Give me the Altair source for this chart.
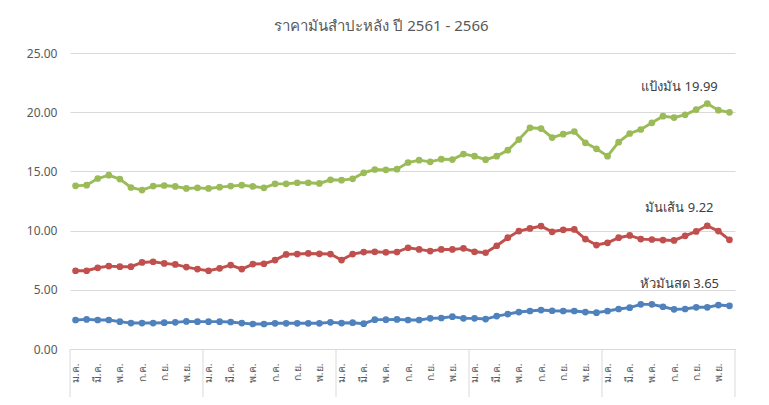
import json
import altair as alt
import pandas as pd

months = ["ม.ค.", "ก.พ.", "มี.ค.", "เม.ย.", "พ.ค.", "มิ.ย.",
          "ก.ค.", "ส.ค.", "ก.ย.", "ต.ค.", "พ.ย.", "ธ.ค."]
years = ["2561", "2562", "2563", "2564", "2565"]

series_names = ["หัวมันสด", "มันเส้น", "แป้งมัน"]
series_colors = ["#4F81BD", "#C0504D", "#9BBB59"]

fresh_root = [2.45, 2.50, 2.45, 2.45, 2.31, 2.19, 2.19, 2.19, 2.22, 2.25, 2.33, 2.31,
              2.31, 2.31, 2.28, 2.19, 2.11, 2.11, 2.17, 2.17, 2.17, 2.17, 2.17, 2.25,
              2.19, 2.22, 2.14, 2.48, 2.48, 2.50, 2.45, 2.45, 2.59, 2.62, 2.73, 2.59,
              2.59, 2.53, 2.78, 2.95, 3.12, 3.21, 3.29, 3.23, 3.21, 3.21, 3.12, 3.07,
              3.21, 3.38, 3.49, 3.77, 3.77, 3.57, 3.35, 3.38, 3.52, 3.52, 3.71, 3.65]

chips = [6.61, 6.61, 6.86, 7.00, 6.95, 6.95, 7.31, 7.37, 7.23, 7.14, 6.92, 6.75,
         6.61, 6.81, 7.09, 6.75, 7.17, 7.20, 7.51, 7.99, 8.02, 8.07, 8.04, 8.02,
         7.51, 8.02, 8.19, 8.21, 8.16, 8.19, 8.55, 8.41, 8.27, 8.41, 8.41, 8.50,
         8.21, 8.13, 8.72, 9.40, 9.96, 10.18, 10.38, 9.90, 10.07, 10.10, 9.28, 8.78,
         8.97, 9.40, 9.59, 9.28, 9.25, 9.20, 9.17, 9.56, 9.93, 10.41, 9.96, 9.22]

starch = [13.78, 13.84, 14.40, 14.68, 14.35, 13.64, 13.42, 13.76, 13.81, 13.73, 13.56, 13.61,
          13.56, 13.67, 13.76, 13.84, 13.73, 13.61, 13.95, 13.95, 14.04, 14.04, 13.98, 14.29,
          14.26, 14.37, 14.88, 15.16, 15.13, 15.19, 15.75, 15.95, 15.81, 16.03, 16.00, 16.46,
          16.29, 15.99, 16.29, 16.79, 17.69, 18.68, 18.62, 17.86, 18.14, 18.37, 17.41, 16.91,
          16.29, 17.47, 18.20, 18.54, 19.10, 19.66, 19.55, 19.78, 20.22, 20.73, 20.17, 19.99]

values_by_series = [fresh_root, chips, starch]
n = len(starch)

rows = []
for name, vals in zip(series_names, values_by_series):
    for i, v in enumerate(vals):
        rows.append({"i": i, "v": v, "s": name, "m": months[i % 12], "y": years[i // 12]})
df = pd.DataFrame(rows)

W, H = 665, 296
FONT = "Noto Sans"
month_js = json.dumps(months, ensure_ascii=False)

x_scale = alt.Scale(domain=[-0.5, n - 0.5], nice=False, zero=False)
y_scale = alt.Scale(domain=[0, 25], nice=False)
color_scale = alt.Scale(domain=series_names, range=series_colors)

x_axis = alt.Axis(values=list(range(0, n, 2)), labelExpr=f"{month_js}[datum.value % 12]",
                  labelAngle=-90, labelOverlap=False, grid=False, ticks=False,
                  domainColor="#d9d9d9", domainWidth=1, labelPadding=14,
                  labelFontSize=10.5, labelColor="#595959", labelFont=FONT, title=None)
y_axis = alt.Axis(values=[0, 5, 10, 15, 20, 25], format=".2f", grid=True,
                  gridColor="#d9d9d9", gridWidth=1, domain=False, ticks=False,
                  labelPadding=13, labelFontSize=12, labelColor="#595959",
                  labelFont=FONT, title=None)

lines = alt.Chart(df).mark_line(
    strokeWidth=2.9,
    point=alt.OverlayMarkDef(size=45, filled=True, opacity=1),
).encode(
    x=alt.X("i:Q", scale=x_scale, axis=x_axis),
    y=alt.Y("v:Q", scale=y_scale, axis=y_axis),
    color=alt.Color("s:N", scale=color_scale, legend=None),
    detail="s:N",
)

# year separators on the category axis
sep_df = pd.DataFrame({"i": [k * 12 - 0.5 for k in range(len(years) + 1)]})
seps = alt.Chart(sep_df).mark_rule(color="#d9d9d9", strokeWidth=1).encode(
    x=alt.X("i:Q", scale=x_scale, axis=x_axis),
    y=alt.value(H),
    y2=alt.value(H + 60),
)

# end labels
last_df = pd.DataFrame({
    "s": series_names,
    "i": [n - 1] * 3,
    "v": [vals[-1] for vals in values_by_series],
})
last_df["label"] = last_df["s"] + " " + last_df["v"].map(lambda v: f"{v:.2f}")

label_dy = {"แป้งมัน": -25, "มันเส้น": -32, "หัวมันสด": -22}
texts = []
for name in series_names:
    texts.append(
        alt.Chart(last_df[last_df["s"] == name]).mark_text(
            align="center", baseline="middle", dx=-50, dy=label_dy[name],
            fontSize=13, color="#404040", font=FONT,
        ).encode(
            x=alt.X("i:Q", scale=x_scale, axis=x_axis),
            y=alt.Y("v:Q", scale=y_scale, axis=y_axis),
            text="label:N",
        )
    )

chart = alt.layer(lines, seps, *texts).properties(
    width=W, height=H,
    title=alt.TitleParams("ราคามันสำปะหลัง ปี 2561 - 2566", fontSize=15, color="#595959",
                          font=FONT, fontWeight="normal", anchor="middle", dx=-21,
                          offset=13),
    autosize=alt.AutoSizeParams(type="none"),
    padding={"left": 62, "top": 45, "right": 26, "bottom": 48},
    background="#ffffff",
).configure_view(stroke=None).configure_axis(labelOverlap=False)

chart.save("out.html", embed_options={"renderer": "svg", "actions": False})
